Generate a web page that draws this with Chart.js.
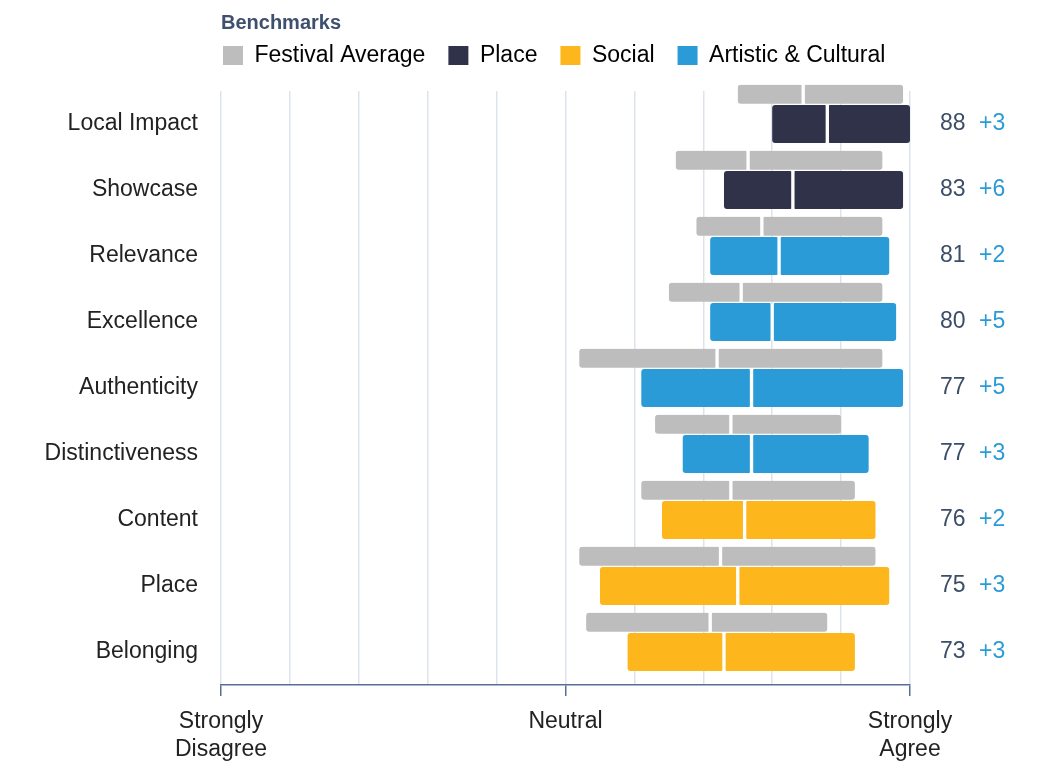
<!DOCTYPE html>
<html>
<head>
<meta charset="utf-8">
<title>Benchmarks</title>
<style>
  html, body { margin: 0; padding: 0; background: #fff; }
  canvas { display: block; }
</style>
<script src="https://cdn.jsdelivr.net/npm/chart.js@4/dist/chart.umd.min.js"></script>
</head>
<body>
<canvas id="benchmarkChart" width="1039" height="762"></canvas>
<script>
// categories, top to bottom
const categories = ["Local Impact", "Showcase", "Relevance", "Excellence", "Authenticity",
  "Distinctiveness", "Content", "Place", "Belonging"];
const groups = ["Place", "Place", "Artistic & Cultural", "Artistic & Cultural", "Artistic & Cultural",
  "Artistic & Cultural", "Social", "Social", "Social"];

// this festival: range and median score
const scoreLow = [80, 73, 71, 71, 61, 67, 64, 55, 59];
const scores = [88, 83, 81, 80, 77, 77, 76, 75, 73];
const scoreHigh = [100, 99, 97, 98, 99, 94, 95, 97, 92];

// festival average benchmark: range and median
const avgLow = [75, 66, 69, 65, 52, 63, 61, 52, 53];
const avgMid = [84.5, 76.5, 78.5, 75.5, 72, 74, 74, 72.5, 71];
const avgHigh = [99, 96, 96, 96, 96, 90, 92, 95, 88];

const diffs = [3, 6, 2, 5, 5, 3, 2, 3, 3];

const legendNames = ["Festival Average", "Place", "Social", "Artistic & Cultural"];
const xTickValues = [0, 50, 100];
const xTickLabels = [["Strongly", "Disagree"], "Neutral", ["Strongly", "Agree"]];

const colors = {
  "Festival Average": "#bdbdbd",
  "Place": "#2f3249",
  "Social": "#fdb71c",
  "Artistic & Cultural": "#2b9bd8"
};
const axisColor = "#566f94";
const gridColor = "#dde3ec";
const textColor = "#222";

Chart.defaults.font.family = "'Liberation Sans', Arial, Helvetica, sans-serif";
Chart.defaults.font.size = 23;
Chart.defaults.color = textColor;

function segment(from, to, shift) {
  return categories.map((c, i) => ({ x: [from[i], to[i]], y: i + shift }));
}

const barColors = groups.map(g => colors[g]);
const avgShift = -0.45;

const common = {
  grouped: false,
  borderSkipped: false,
  borderColor: "#fff",
  borderRadius: 3,
  clip: false
};

const rowTicks = axis => { axis.ticks = categories.map((c, i) => ({ value: i })); };

const rowAxis = {
  type: "linear",
  reverse: true,
  offset: false,
  min: -0.5,
  max: 8.5,
  afterBuildTicks: rowTicks,
  grid: { display: false, drawTicks: false },
  border: { display: false }
};

// legend sits over the plot's left edge, under the title
const legendShift = {
  id: "legendShift",
  afterLayout(chart) {
    const lg = chart.legend;
    const dx = chart.chartArea.left + 2 - lg.options.labels.padding - lg.left;
    lg.left += dx;
    lg.right += dx;
    lg.top -= 14;
    lg.bottom -= 14;
  }
};

new Chart(document.getElementById("benchmarkChart"), {
  type: "bar",
  data: {
    datasets: [
      Object.assign({
        label: "Festival Average",
        data: segment(avgLow, avgMid, avgShift),
        backgroundColor: colors["Festival Average"],
        borderWidth: { top: 0, right: 2, bottom: 0, left: 0 },
        barThickness: 19
      }, common),
      Object.assign({
        label: "Festival Average (upper)",
        data: segment(avgMid, avgHigh, avgShift),
        backgroundColor: colors["Festival Average"],
        borderWidth: { top: 0, right: 0, bottom: 0, left: 2 },
        barThickness: 19
      }, common),
      Object.assign({
        label: "Score",
        data: segment(scoreLow, scores, 0),
        backgroundColor: barColors,
        borderWidth: { top: 0, right: 2, bottom: 0, left: 0 },
        barThickness: 38
      }, common),
      Object.assign({
        label: "Score (upper)",
        data: segment(scores, scoreHigh, 0),
        backgroundColor: barColors,
        borderWidth: { top: 0, right: 0, bottom: 0, left: 2 },
        barThickness: 38
      }, common)
    ]
  },
  options: {
    indexAxis: "y",
    responsive: false,
    animation: false,
    events: [],
    layout: { padding: 0 },
    scales: {
      x: {
        type: "linear",
        min: 0,
        max: 100,
        afterFit: axis => { axis.height = 77; },
        ticks: {
          stepSize: 10,
          autoSkip: false,
          maxRotation: 0,
          padding: 12,
          color: textColor,
          callback: v => {
            const k = xTickValues.indexOf(v);
            return k >= 0 ? xTickLabels[k] : "";
          }
        },
        grid: {
          color: gridColor,
          lineWidth: 1.5,
          drawTicks: true,
          tickLength: 11,
          tickWidth: 1.5,
          tickColor: ctx => (ctx.tick && xTickValues.includes(ctx.tick.value)) ? axisColor : "rgba(0,0,0,0)"
        },
        border: { display: true, color: axisColor, width: 1.5 }
      },
      y: Object.assign({}, rowAxis, {
        position: "left",
        afterFit: axis => { axis.width = 221; },
        ticks: { autoSkip: false, padding: 23, color: textColor, callback: v => categories[v] }
      }),
      yScore: Object.assign({}, rowAxis, {
        position: "right",
        weight: 1,
        afterFit: axis => { axis.width = 56; },
        ticks: { autoSkip: false, padding: 30, color: "#3c4d68", callback: v => String(scores[v]) }
      }),
      yDiff: Object.assign({}, rowAxis, {
        position: "right",
        weight: 2,
        afterFit: axis => { axis.width = 73; },
        ticks: { autoSkip: false, padding: 13, color: colors["Artistic & Cultural"], callback: v => "+" + diffs[v] }
      })
    },
    plugins: {
      tooltip: { enabled: false },
      title: {
        display: true,
        text: "Benchmarks",
        align: "start",
        fullSize: false,
        color: "#3e506e",
        font: { size: 20, weight: "bold" },
        padding: { top: 11, bottom: 0 }
      },
      legend: {
        display: true,
        position: "top",
        align: "start",
        labels: {
          boxWidth: 20,
          boxHeight: 19,
          padding: 23,
          color: textColor,
          font: { size: 23 },
          generateLabels: () => legendNames.map((name, i) => ({
            text: name,
            fillStyle: colors[name],
            strokeStyle: colors[name],
            lineWidth: 0,
            hidden: false,
            datasetIndex: i
          }))
        }
      }
    }
  },
  plugins: [legendShift]
});
</script>
</body>
</html>
